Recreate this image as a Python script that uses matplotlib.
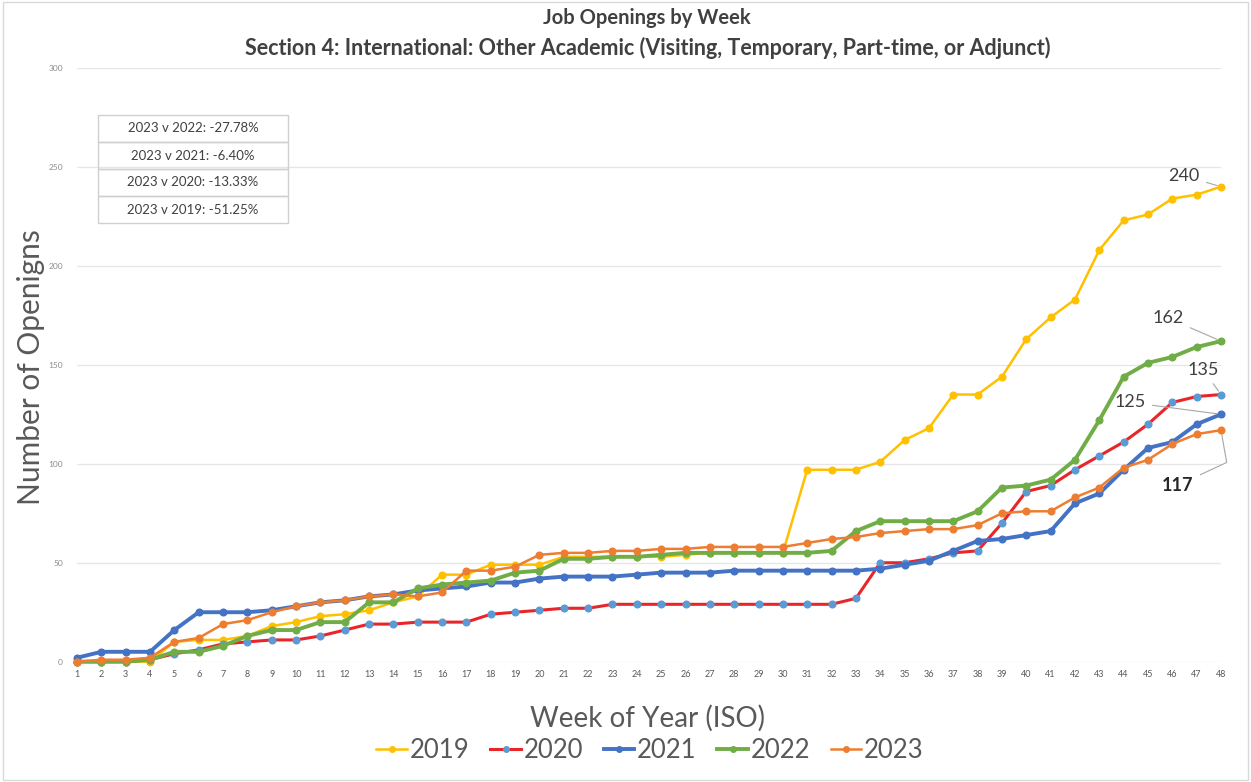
import matplotlib.pyplot as plt
from matplotlib.lines import Line2D
from matplotlib.patches import Rectangle

weeks = list(range(1, 49))
y2019 = [0, 0, 0, 0, 10, 11, 11, 13, 18, 20, 23, 24, 26, 30, 33, 44, 44, 49, 49, 49,
         53, 53, 53, 53, 53, 54, 55, 55, 55, 55, 97, 97, 97, 101, 112, 118, 135, 135, 144, 163,
         174, 183, 208, 223, 226, 234, 236, 240]
y2020 = [0, 0, 0, 1, 4, 6, 9, 10, 11, 11, 13, 16, 19, 19, 20, 20, 20, 24, 25, 26,
         27, 27, 29, 29, 29, 29, 29, 29, 29, 29, 29, 29, 32, 50, 50, 52, 55, 56, 70, 86,
         89, 97, 104, 111, 120, 131, 134, 135]
y2021 = [2, 5, 5, 5, 16, 25, 25, 25, 26, 28, 30, 31, 33, 34, 36, 37, 38, 40, 40, 42,
         43, 43, 43, 44, 45, 45, 45, 46, 46, 46, 46, 46, 46, 47, 49, 51, 56, 61, 62, 64,
         66, 80, 85, 97, 108, 111, 120, 125]
y2022 = [0, 0, 0, 1, 5, 5, 8, 13, 16, 16, 20, 20, 30, 30, 37, 39, 40, 41, 45, 46,
         52, 52, 53, 53, 54, 55, 55, 55, 55, 55, 55, 56, 66, 71, 71, 71, 71, 76, 88, 89,
         92, 102, 122, 144, 151, 154, 159, 162]
y2023 = [0, 1, 1, 2, 10, 12, 19, 21, 25, 28, 30, 31, 33, 34, 33, 35, 46, 46, 48, 54,
         55, 55, 56, 56, 57, 57, 58, 58, 58, 58, 60, 62, 63, 65, 66, 67, 67, 69, 75, 76,
         76, 83, 88, 98, 102, 110, 115, 117]

years = ['2019', '2020', '2021', '2022', '2023']
series = [y2019, y2020, y2021, y2022, y2023]
line_colors = ['#FFC000', '#E8262A', '#4472C4', '#70AD47', '#ED7D31']
marker_colors = ['#FFC000', '#5B9BD5', '#4472C4', '#70AD47', '#ED7D31']
widths = [1.8, 2.2, 2.8, 2.8, 1.8]

plt.rcParams['font.family'] = ['Lato', 'DejaVu Sans']
W, H = 1251, 782
fig = plt.figure(figsize=(W / 100, H / 100), dpi=100)
fig.patches.append(Rectangle((0.002, 0.002), 0.996, 0.996, transform=fig.transFigure,
                             fill=False, edgecolor='#D9D9D9', lw=1))

ax = fig.add_axes([77 / W, 1 - 661.7 / H, (1221 - 77) / W, (661.7 - 68) / H])
for ys, lc, mc, lw in zip(series, line_colors, marker_colors, widths):
    ax.plot(weeks, ys, color=lc, lw=lw, marker='o', ms=4.8, mfc=mc, mec=mc, clip_on=False)

ax.set_xlim(1, 48)
ax.set_ylim(0, 300)
ax.set_xticks(weeks)
ax.set_yticks(range(0, 301, 50))
ax.tick_params(axis='x', length=0, pad=6, labelsize=6.5, labelcolor='#595959')
ax.tick_params(axis='y', length=0, pad=10, labelsize=6, labelcolor='#8C8C8C')
ax.grid(axis='y', color='#E6E6E6', lw=0.9)
ax.set_axisbelow(True)
for s in ax.spines.values():
    s.set_visible(False)

# end-of-series labels
ends = [(y2019, (-37, 11)), (y2022, (-53, 23)), (y2020, (-18, 25)), (y2021, (-91, 12))]
for ys, off in ends:
    ax.annotate(str(ys[-1]), xy=(weeks[-1], ys[-1]), xytext=off, textcoords='offset pixels',
                ha='center', va='center', fontsize=13, color='#404040',
                arrowprops=dict(arrowstyle='-', color='#A6A6A6', lw=0.8, shrinkA=3, shrinkB=3))
ax.annotate(str(y2023[-1]), xy=(weeks[-1], y2023[-1]), xytext=(-43, -55), textcoords='offset pixels',
            ha='center', va='center', fontsize=13, color='#262626', fontweight='bold',
            arrowprops=dict(arrowstyle='-', color='#A6A6A6', lw=0.8, shrinkA=3, shrinkB=3,
                            connectionstyle='angle,angleA=25,angleB=100,rad=0'))

# comparison table
others = [('2022', y2022), ('2021', y2021), ('2020', y2020), ('2019', y2019)]
row_h = 27
for i, (yr, ys) in enumerate(others):
    top = 115 + i * row_h
    fig.patches.append(Rectangle((98 / W, 1 - (top + row_h) / H), 190 / W, row_h / H,
                                 transform=fig.transFigure, fill=False,
                                 edgecolor='#D0D0D0', lw=1))
    pct = (y2023[-1] / ys[-1] - 1) * 100
    fig.text(193 / W, 1 - (top + row_h / 2) / H, '2023 v %s: %.2f%%' % (yr, pct),
             ha='center', va='center', fontsize=9.5, color='#404040')

fig.text(647 / W, 1 - 18 / H, 'Job Openings by Week', ha='center', va='center',
         fontsize=14.5, fontweight='bold', color='#404040')
fig.text(648 / W, 1 - 48 / H,
         'Section 4: International: Other Academic (Visiting, Temporary, Part-time, or Adjunct)',
         ha='center', va='center', fontsize=15.5, fontweight='bold', color='#404040')
fig.text(31 / W, 1 - 367 / H, 'Number of Openigns', rotation=90, ha='center', va='center',
         fontsize=21.5, color='#595959')
fig.text(648 / W, 1 - 718 / H, 'Week of Year (ISO)', ha='center', va='center',
         fontsize=20, color='#595959')

handles = [Line2D([], [], color=lc, lw=lw, marker='o', ms=4, mfc=mc, mec=mc)
           for lc, mc, lw in zip(line_colors, marker_colors, widths)]
fig.legend(handles, years, loc='center', bbox_to_anchor=(650 / W, 1 - 750 / H), ncol=5,
           frameon=False, fontsize=18.5, handlelength=1.2, handletextpad=0.1,
           columnspacing=0.8, labelcolor='#595959')

fig.savefig('out.png', dpi=100)
